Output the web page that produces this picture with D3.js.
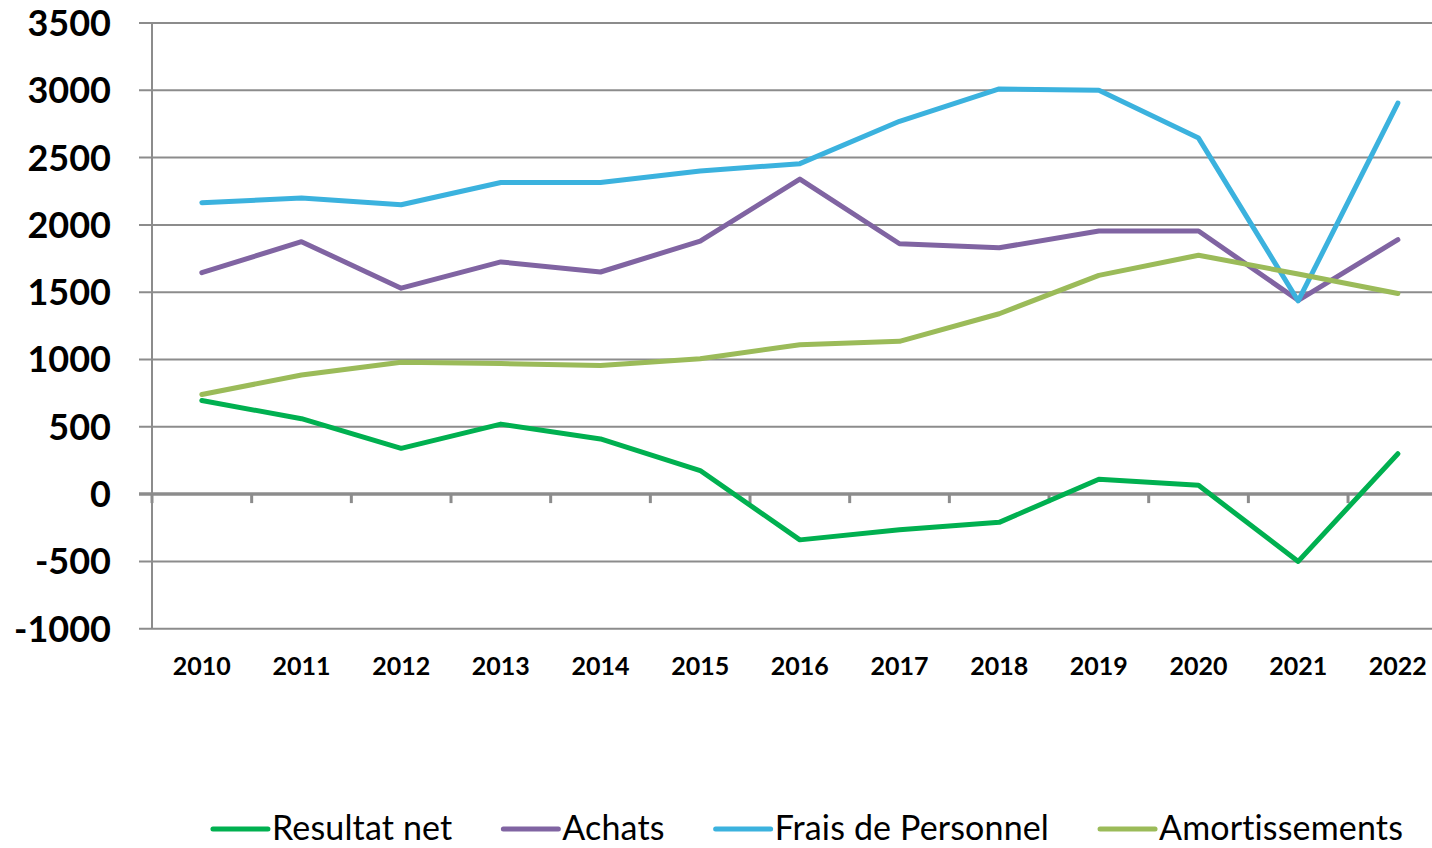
<!DOCTYPE html>
<html lang="fr">
<head>
<meta charset="UTF-8">
<title>Evolution</title>
<script src="https://cdnjs.cloudflare.com/ajax/libs/d3/7.8.5/d3.min.js"></script>
<style>
    body { margin: 0; background: #fff; }
    svg { display: block; }
    .ylab { font-family: Lato, sans-serif; font-weight: 700; font-size: 36px; fill: #000; }
    .xlab { font-family: Lato, sans-serif; font-weight: 700; font-size: 25px; fill: #000; }
    .leg { font-family: Lato, sans-serif; font-size: 34px; letter-spacing: 0.15px; fill: #000; }
</style>
</head>
<body>
<svg id="chart"></svg>
<script>
// data
const years = ["2010","2011","2012","2013","2014","2015","2016","2017","2018","2019","2020","2021","2022"];
const resultatNet = [695, 560, 340, 520, 410, 175, -340, -265, -210, 110, 65, -500, 300];
const achats = [1645, 1875, 1530, 1725, 1650, 1880, 2340, 1860, 1830, 1955, 1955, 1440, 1890];
const fraisPersonnel = [2165, 2200, 2150, 2315, 2315, 2400, 2455, 2770, 3010, 3000, 2645, 1435, 2905];
const amortissements = [740, 885, 980, 970, 955, 1005, 1110, 1135, 1340, 1625, 1775, 1635, 1490];
const yTicks = [-1000, -500, 0, 500, 1000, 1500, 2000, 2500, 3000, 3500];

const seriesNames = ["Resultat net", "Achats", "Frais de Personnel", "Amortissements"];
const seriesValues = [resultatNet, achats, fraisPersonnel, amortissements];
const seriesColors = ["#00B050", "#8064A2", "#3BB2DE", "#9BBB59"];

const W = 1432, H = 848;
const plotLeft = 152, plotTop = 23, plotBottom = 628.7;
const band = 99.67;

const svg = d3.select("#chart").attr("width", W).attr("height", H);

const x = d3.scaleBand().domain(years).range([plotLeft, plotLeft + band * years.length]).padding(0);
const y = d3.scaleLinear().domain([-1000, 3500]).range([plotBottom, plotTop]);
const cx = d => x(d) + x.bandwidth() / 2;

// horizontal gridlines
svg.append("g").selectAll("line")
    .data(yTicks.filter(t => t !== 0))
    .enter().append("line")
    .attr("x1", plotLeft - 13).attr("x2", W)
    .attr("y1", d => y(d)).attr("y2", d => y(d))
    .attr("stroke", "#8c8c8c").attr("stroke-width", 2);

// vertical axis line
svg.append("line")
    .attr("x1", plotLeft).attr("x2", plotLeft)
    .attr("y1", y(3500)).attr("y2", y(-1000))
    .attr("stroke", "#8c8c8c").attr("stroke-width", 2);

// zero line with category ticks
svg.append("line")
    .attr("x1", plotLeft - 13).attr("x2", W)
    .attr("y1", y(0)).attr("y2", y(0))
    .attr("stroke", "#8c8c8c").attr("stroke-width", 3.5);
svg.append("g").selectAll("line")
    .data(years)
    .enter().append("line")
    .attr("x1", d => x(d)).attr("x2", d => x(d))
    .attr("y1", y(0)).attr("y2", y(0) + 9)
    .attr("stroke", "#8c8c8c").attr("stroke-width", 3);

// y labels
svg.append("g").selectAll("text")
    .data(yTicks)
    .enter().append("text")
    .attr("class", "ylab")
    .attr("x", 111)
    .attr("y", d => y(d))
    .attr("dy", "0.36em")
    .attr("text-anchor", "end")
    .text(d => d);

// x labels
svg.append("g").selectAll("text")
    .data(years)
    .enter().append("text")
    .attr("class", "xlab")
    .attr("x", d => cx(d))
    .attr("y", 675)
    .attr("text-anchor", "middle")
    .text(d => d);

// lines
const line = d3.line()
    .x((d, i) => cx(years[i]))
    .y(d => y(d));

seriesValues.forEach((vals, k) => {
    svg.append("path")
        .datum(vals)
        .attr("d", line)
        .attr("fill", "none")
        .attr("stroke", seriesColors[k])
        .attr("stroke-width", 5)
        .attr("stroke-linejoin", "round")
        .attr("stroke-linecap", "round");
});

// legend
const legY = 829, lineLen = 55, gapText = 4, gapItem = 51;
const leg = svg.append("g");
let items = seriesNames.map((name, k) => {
    const g = leg.append("g");
    g.append("line")
        .attr("x1", 0).attr("x2", lineLen)
        .attr("y1", 0).attr("y2", 0)
        .attr("stroke", seriesColors[k])
        .attr("stroke-width", 5)
        .attr("stroke-linecap", "round");
    const t = g.append("text")
        .attr("class", "leg")
        .attr("x", lineLen + gapText)
        .attr("y", 11)
        .text(name);
    return {g: g, w: lineLen + gapText + t.node().getComputedTextLength()};
});
const total = d3.sum(items, d => d.w) + gapItem * (items.length - 1);
let pos = 808 - total / 2;
items.forEach(it => {
    it.g.attr("transform", `translate(${pos},${legY})`);
    pos += it.w + gapItem;
});
</script>
</body>
</html>
